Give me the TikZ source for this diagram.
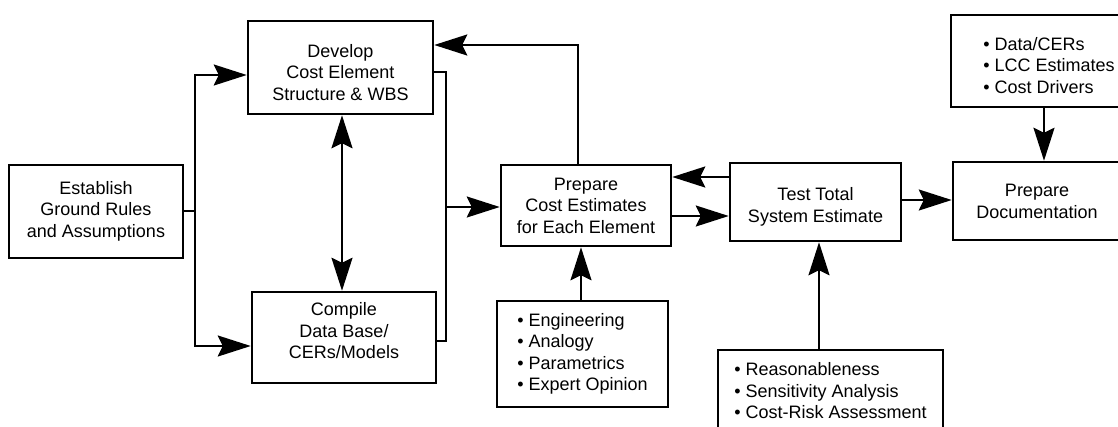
\documentclass[tikz,border=0pt]{standalone}
\usepackage{fontspec}
\setmainfont{Liberation Sans}
\usetikzlibrary{arrows.meta}
% move a text block up or down inside its box without changing the box size
\newcommand\shifttext[2]{\raisebox{#1}[\height][\depth]{#2}}
\begin{document}
\begin{tikzpicture}[x=1pt,y=-1pt,
  box/.style={draw, line width=2.5pt, inner sep=0pt, fill=white,
              font=\fontsize{18}{21.5}\selectfont},
  ln/.style={line width=2.1pt, line join=miter},
  tip/.tip={Stealth[length=33pt,width=21pt,inset=5pt]},
  arr/.style={ln, -tip},
  dbl/.style={ln, tip-tip}]
\useasboundingbox (0,0) rectangle (1118,426);
\clip (0,0) rectangle (1118,426);
\fill[white] (0,0) rectangle (1118,426);

% process boxes
\node[box, minimum width=174pt, minimum height=93pt] (est) at (96,211.5)
  {\begin{tabular}{c}Establish\\Ground Rules\\and Assumptions\end{tabular}};
\node[box, minimum width=185pt, minimum height=93pt] (dev) at (340.5,67.5)
  {\shifttext{-7pt}{\begin{tabular}{c}Develop\\Cost Element\\Structure \& WBS\end{tabular}}};
\node[box, minimum width=184pt, minimum height=91pt] (comp) at (344,337.5)
  {\shifttext{4.5pt}{\begin{tabular}{c}Compile\\Data Base/\\CERs/Models\end{tabular}}};
\node[box, minimum width=170pt, minimum height=81pt] (prep) at (586,205.5)
  {\shifttext{-2pt}{\begin{tabular}{c}Prepare\\Cost Estimates\\for Each Element\end{tabular}}};
\node[box, minimum width=171pt, minimum height=78pt] (test) at (815.5,202)
  {\shifttext{-5pt}{\begin{tabular}{c}Test Total\\System Estimate\end{tabular}}};
\node[box, minimum width=168pt, minimum height=78pt] (doc) at (1037,201)
  {\shifttext{-2pt}{\begin{tabular}{c}Prepare\\Documentation\end{tabular}}};

% input lists
\node[box, minimum width=196pt, minimum height=92pt] (data) at (1049,61)
  {\shifttext{-6.5pt}{\begin{tabular}{@{}l@{}}\textbullet\ Data/CERs\\\textbullet\ LCC Estimates\\\textbullet\ Cost Drivers\end{tabular}}};
\node[box, minimum width=171pt, minimum height=106pt] (eng) at (582.5,354)
  {\begin{tabular}{@{}l@{}}\textbullet\ Engineering\\\textbullet\ Analogy\\\textbullet\ Parametrics\\\textbullet\ Expert Opinion\end{tabular}};
\node[box, minimum width=225pt, minimum height=86pt] (reas) at (830.5,393)
  {\begin{tabular}{@{}l@{}}\textbullet\ Reasonableness\\\textbullet\ Sensitivity Analysis\\\textbullet\ Cost-Risk Assessment\end{tabular}};

% junction points of the connectors
\coordinate (jl) at (195,211);
\coordinate (lt) at (195,75);
\coordinate (lb) at (195,346);
\coordinate (mv) at (342,0);
\coordinate (rt) at (446,72);
\coordinate (rb) at (446,341);
\coordinate (rm) at (446,207);
\coordinate (fb) at (578,45);
\coordinate (tp) at (700,177);
\coordinate (pt) at (700,216);
\coordinate (td) at (925,200);
\coordinate (dd) at (1044,0);
\coordinate (ep) at (581,0);
\coordinate (rp) at (819,0);

% connectors
\draw[ln] (est.east |- jl) -- (jl);
\draw[dbl] (dev.west |- lt) -- (lt) -- (lb) -- (comp.west |- lb);
\draw[dbl] (dev.south -| mv) -- (comp.north -| mv);
\draw[ln] (dev.east |- rt) -- (rt) -- (rb) -- (comp.east |- rb);
\draw[arr] (rm) -- (prep.west |- rm);
\draw[arr] (prep.north -| fb) -- (fb) -- (dev.east |- fb);
\draw[arr] (test.west |- tp) -- (prep.east |- tp);
\draw[arr] (prep.east |- pt) -- (test.west |- pt);
\draw[arr] (test.east |- td) -- (doc.west |- td);
\draw[arr] (data.south -| dd) -- (doc.north -| dd);
\draw[arr] (eng.north -| ep) -- (prep.south -| ep);
\draw[arr] (reas.north -| rp) -- (test.south -| rp);
\end{tikzpicture}
\end{document}
